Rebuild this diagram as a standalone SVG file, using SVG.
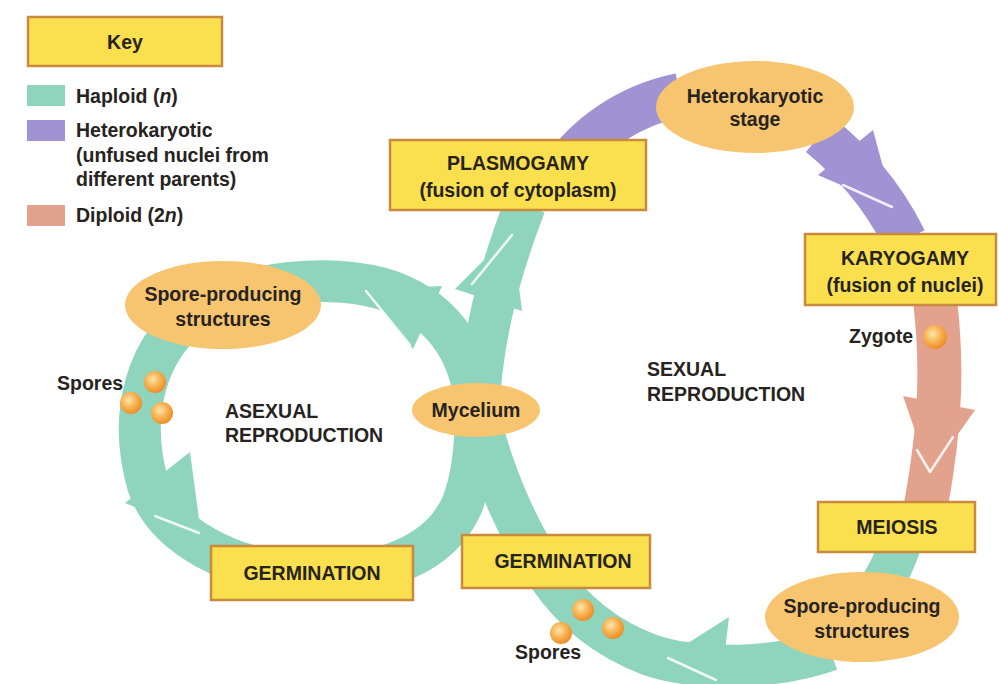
<svg xmlns="http://www.w3.org/2000/svg" width="999" height="684" viewBox="0 0 999 684">
<defs>
<radialGradient id="spore" cx="0.4" cy="0.38" r="0.65">
<stop offset="0" stop-color="#fde6ad"/>
<stop offset="0.55" stop-color="#f7b04e"/>
<stop offset="1" stop-color="#ec8a25"/>
</radialGradient>
</defs>
<style>
text{font-family:"Liberation Sans",Arial,sans-serif;font-weight:bold;font-size:19.5px;fill:#262320}
.c{text-anchor:middle}
.box{fill:#fadf4f;stroke:#c98a3f;stroke-width:2.5}
.ell{fill:#f7c570}
.hap{fill:none;stroke:#8fd4bd;stroke-width:42}
.het{fill:none;stroke:#a092d3;stroke-width:44}
.dip{fill:none;stroke:#e3a28e;stroke-width:44}
.hapf{fill:#8fd4bd}
.hetf{fill:#a092d3}
.dipf{fill:#e3a28e}
.hl{fill:none;stroke:#ffffff;stroke-width:2.5;stroke-opacity:0.85;stroke-linecap:round;stroke-linejoin:round}
.sp{fill:url(#spore)}
</style>
<rect width="999" height="684" fill="#ffffff"/>

<g id="connectors">
<!-- asexual loop -->
<path class="hap" d="M476,410 C472,350 440,305 380,288 C330,275 250,280 200,310 C145,345 128,415 148,485 C165,535 230,572 310,575 C380,577 440,555 462,505 C472,480 476,450 476,410"/>
<polygon class="hapf" points="364,290 442,286 413,349"/>
<polyline class="hl" points="366,291 410,345"/>
<polygon class="hapf" points="201,534 125,503 190,452"/>
<polyline class="hl" points="155,516 199,533"/>
<!-- sexual loop: mycelium to plasmogamy -->
<path class="hap" d="M478,420 C480,340 500,270 525,205"/>
<polygon class="hapf" points="512,232 455,289 522,311"/>
<polyline class="hl" points="512,235 472,284"/>
<!-- heterokaryotic -->
<path class="het" d="M560,175 C585,135 630,105 680,95"/>
<path class="het" d="M820,135 C850,160 880,190 905,240"/>
<polygon class="hetf" points="894,208 818,175 873,130"/>
<polyline class="hl" points="843,185 892,207"/>
<!-- diploid -->
<path class="dip" d="M935,300 C942,360 942,420 925,510"/>
<polygon class="dipf" points="930,474 903,396 975,410"/>
<polyline class="hl" points="917,450 930,472 953,437"/>
<!-- haploid after meiosis -->
<path class="hap" d="M900,545 C890,575 875,595 860,615"/>
<path class="hap" d="M830,650 C780,668 700,672 650,655 C610,640 575,615 548,575 C520,535 495,480 480,420"/>
<polygon class="hapf" points="666,657 729,617 720,693"/>
<polyline class="hl" points="668,658 716,680"/>
</g>

<g id="key">
<rect class="box" x="28" y="17" width="194" height="49"/>
<text class="c" x="125" y="49">Key</text>
<rect x="27" y="85" width="38" height="21" fill="#8fd4bd"/>
<text x="76" y="103">Haploid (<tspan font-style="italic">n</tspan>)</text>
<rect x="27" y="120" width="38" height="21" fill="#a092d3"/>
<text x="76" y="137">Heterokaryotic</text>
<text x="76" y="162">(unfused nuclei from</text>
<text x="76" y="186">different parents)</text>
<rect x="27" y="205" width="38" height="21" fill="#e3a28e"/>
<text x="76" y="222">Diploid (2<tspan font-style="italic">n</tspan>)</text>
</g>

<g id="plasmogamy">
<rect class="box" x="390" y="140" width="256" height="70"/>
<text class="c" x="518" y="170">PLASMOGAMY</text>
<text class="c" x="518" y="197">(fusion of cytoplasm)</text>
</g>

<g id="heterokaryotic-stage">
<ellipse class="ell" cx="755" cy="107" rx="99" ry="46"/>
<text class="c" x="755" y="103">Heterokaryotic</text>
<text class="c" x="755" y="126">stage</text>
</g>

<g id="karyogamy">
<rect class="box" x="805" y="234" width="191" height="71"/>
<text class="c" x="905" y="265">KARYOGAMY</text>
<text class="c" x="905" y="292">(fusion of nuclei)</text>
</g>

<g id="zygote">
<circle class="sp" cx="935" cy="337" r="12"/>
<text x="913" y="343" style="text-anchor:end">Zygote</text>
</g>

<g id="meiosis">
<rect class="box" x="818" y="502" width="157" height="50"/>
<text class="c" x="897" y="534">MEIOSIS</text>
</g>

<g id="spore-producing-sexual">
<ellipse class="ell" cx="862" cy="617" rx="97" ry="45"/>
<text class="c" x="862" y="613">Spore-producing</text>
<text class="c" x="862" y="638">structures</text>
</g>

<g id="spores-sexual">
<circle class="sp" cx="583" cy="610" r="11"/>
<circle class="sp" cx="613" cy="628" r="11"/>
<circle class="sp" cx="561" cy="633" r="11"/>
<text x="515" y="659">Spores</text>
</g>

<g id="germination-sexual">
<rect class="box" x="462" y="535" width="188" height="53"/>
<text class="c" x="563" y="568">GERMINATION</text>
</g>

<g id="mycelium">
<ellipse class="ell" cx="476" cy="410" rx="64" ry="27"/>
<text class="c" x="476" y="417">Mycelium</text>
</g>

<g id="spore-producing-asexual">
<ellipse class="ell" cx="223" cy="305" rx="98" ry="44"/>
<text class="c" x="223" y="301">Spore-producing</text>
<text class="c" x="223" y="326">structures</text>
</g>

<g id="spores-asexual">
<circle class="sp" cx="155" cy="382" r="11"/>
<circle class="sp" cx="131" cy="403" r="11"/>
<circle class="sp" cx="162" cy="413" r="11"/>
<text x="57" y="390">Spores</text>
</g>

<g id="germination-asexual">
<rect class="box" x="211" y="546" width="202" height="54"/>
<text class="c" x="312" y="580">GERMINATION</text>
</g>

<g id="labels">
<text x="225" y="418">ASEXUAL</text>
<text x="225" y="442">REPRODUCTION</text>
<text x="647" y="376">SEXUAL</text>
<text x="647" y="401">REPRODUCTION</text>
</g>
</svg>
